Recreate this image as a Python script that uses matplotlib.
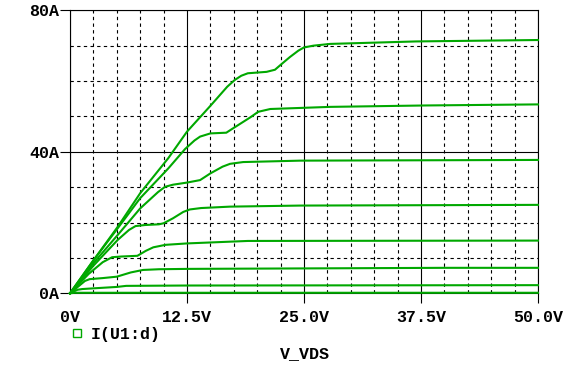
import matplotlib
matplotlib.use('Agg')
import matplotlib.pyplot as plt
from matplotlib.lines import Line2D
import numpy as np

# Curvas Id x Vds (do maior para o menor Vgs)
vds_1 = [0, 2.5, 5.1, 7.5, 10.5, 12.5, 15, 16.8, 17.6, 18.3, 19, 21.0, 21.9, 22.6, 23.5, 24.4, 25, 26, 27.8, 37, 50]
id_1 = [0, 9.3, 18.8, 28.3, 38.2, 45.7, 53.0, 58.4, 60.3, 61.5, 62.2, 62.6, 63.2, 64.8, 66.8, 68.6, 69.5, 70.0, 70.5, 71.2, 71.6]

vds_2 = [0, 2.5, 5.1, 7.5, 10.5, 12.3, 13.3, 13.9, 15, 16.7, 17.4, 19.3, 20.1, 21.4, 27.8, 38, 50]
id_2 = [0, 9.3, 18.4, 26.9, 35.3, 40.8, 43.2, 44.3, 45.2, 45.4, 46.6, 49.8, 51.3, 52.1, 52.7, 53.1, 53.4]

vds_3 = [0, 2.5, 5.1, 7.5, 9.4, 10.15, 11, 12.5, 13.9, 15, 16.3, 17.1, 18.5, 24.6, 50]
id_3 = [0, 8.5, 16.5, 24.0, 28.6, 30.1, 30.7, 31.3, 32.0, 33.9, 35.8, 36.6, 37.1, 37.5, 37.7]

vds_4 = [0, 2.5, 5.1, 6.3, 7.0, 8, 9.5, 10, 11, 12.1, 12.8, 14, 17.1, 24.6, 50]
id_4 = [0, 7.8, 15.1, 17.9, 19.0, 19.3, 19.5, 19.8, 21.2, 23.0, 23.7, 24.1, 24.5, 24.8, 25.0]

vds_5 = [0, 2, 3.5, 4.5, 5.5, 7.2, 8.1, 8.9, 10.2, 12.5, 19, 50]
id_5 = [0, 5.5, 8.8, 10.2, 10.4, 10.6, 12.0, 13.0, 13.7, 14.1, 14.8, 14.9]

vds_6 = [0, 1.6, 2.1, 3.5, 5, 6.5, 7.8, 9.5, 12.5, 40, 50]
id_6 = [0, 3.5, 4.0, 4.3, 4.7, 5.9, 6.6, 6.8, 6.9, 7.2, 7.2]

vds_7 = [0, 0.8, 1.3, 2.5, 5, 6, 12.5, 50]
id_7 = [0, 1.0, 1.2, 1.4, 1.8, 2.1, 2.2, 2.3]

vds_8 = [0, 0.5, 50]
id_8 = [0, 0.15, 0.15]

curvas = [(vds_1, id_1), (vds_2, id_2), (vds_3, id_3), (vds_4, id_4),
          (vds_5, id_5), (vds_6, id_6), (vds_7, id_7), (vds_8, id_8)]

x_ticks = [0, 12.5, 25, 37.5, 50]
x_labels = ['0V', '12.5V', '25.0V', '37.5V', '50.0V']
y_ticks = [0, 40, 80]
y_labels = ['0A', '40A', '80A']

verde = '#00A800'
fonte = 'Liberation Mono'

fig = plt.figure(figsize=(5.69, 3.66), dpi=100)
ax = fig.add_axes([70 / 569, 1 - 293.3 / 366, 468 / 569, 283 / 366])

for vds, idr in curvas:
    ax.plot(vds, idr, color=verde, lw=1.5, zorder=3, clip_on=False)

ax.set_xlim(0, 50)
ax.set_ylim(0, 80)

ax.set_xticks(x_ticks)
ax.set_xticklabels(x_labels)
ax.set_yticks(y_ticks)
ax.set_yticklabels(y_labels)
ax.set_xticks(np.arange(0, 50.1, 2.5), minor=True)
ax.set_yticks(np.arange(0, 80.1, 10), minor=True)

ax.grid(which='minor', color='black', lw=0.8, linestyle=(0, (3, 3)))
ax.grid(which='major', color='black', lw=0.8, linestyle='-')
ax.set_axisbelow(True)

ax.tick_params(which='minor', length=0)
ax.tick_params(which='major', direction='out', length=7, width=0.8, color='black')
ax.tick_params(axis='x', pad=5)
ax.tick_params(axis='y', pad=1)
ax.xaxis.get_major_ticks()[0].tick1line.set_visible(False)

for lab in ax.get_xticklabels() + ax.get_yticklabels():
    lab.set_fontfamily(fonte)
    lab.set_fontweight('bold')
    lab.set_fontsize(12)

for s in ax.spines.values():
    s.set_linewidth(0.8)
    s.set_color('black')

# legenda e titulo do eixo
marcador = Line2D([], [], marker='s', mfc='none', mec=verde, mew=1.0, ms=6, ls='none')
fig.legend([marcador], ['I(U1:d)'], loc='center left',
           bbox_to_anchor=(62 / 569, 1 - 334 / 366), frameon=False,
           handletextpad=0.3, handlelength=1.0, borderaxespad=0,
           prop={'family': fonte, 'weight': 'bold', 'size': 12})

fig.text(305 / 569, 1 - 354 / 366, 'V_VDS', ha='center', va='center',
         fontfamily=fonte, fontweight='bold', fontsize=12)

fig.savefig('out.png', dpi=100)
